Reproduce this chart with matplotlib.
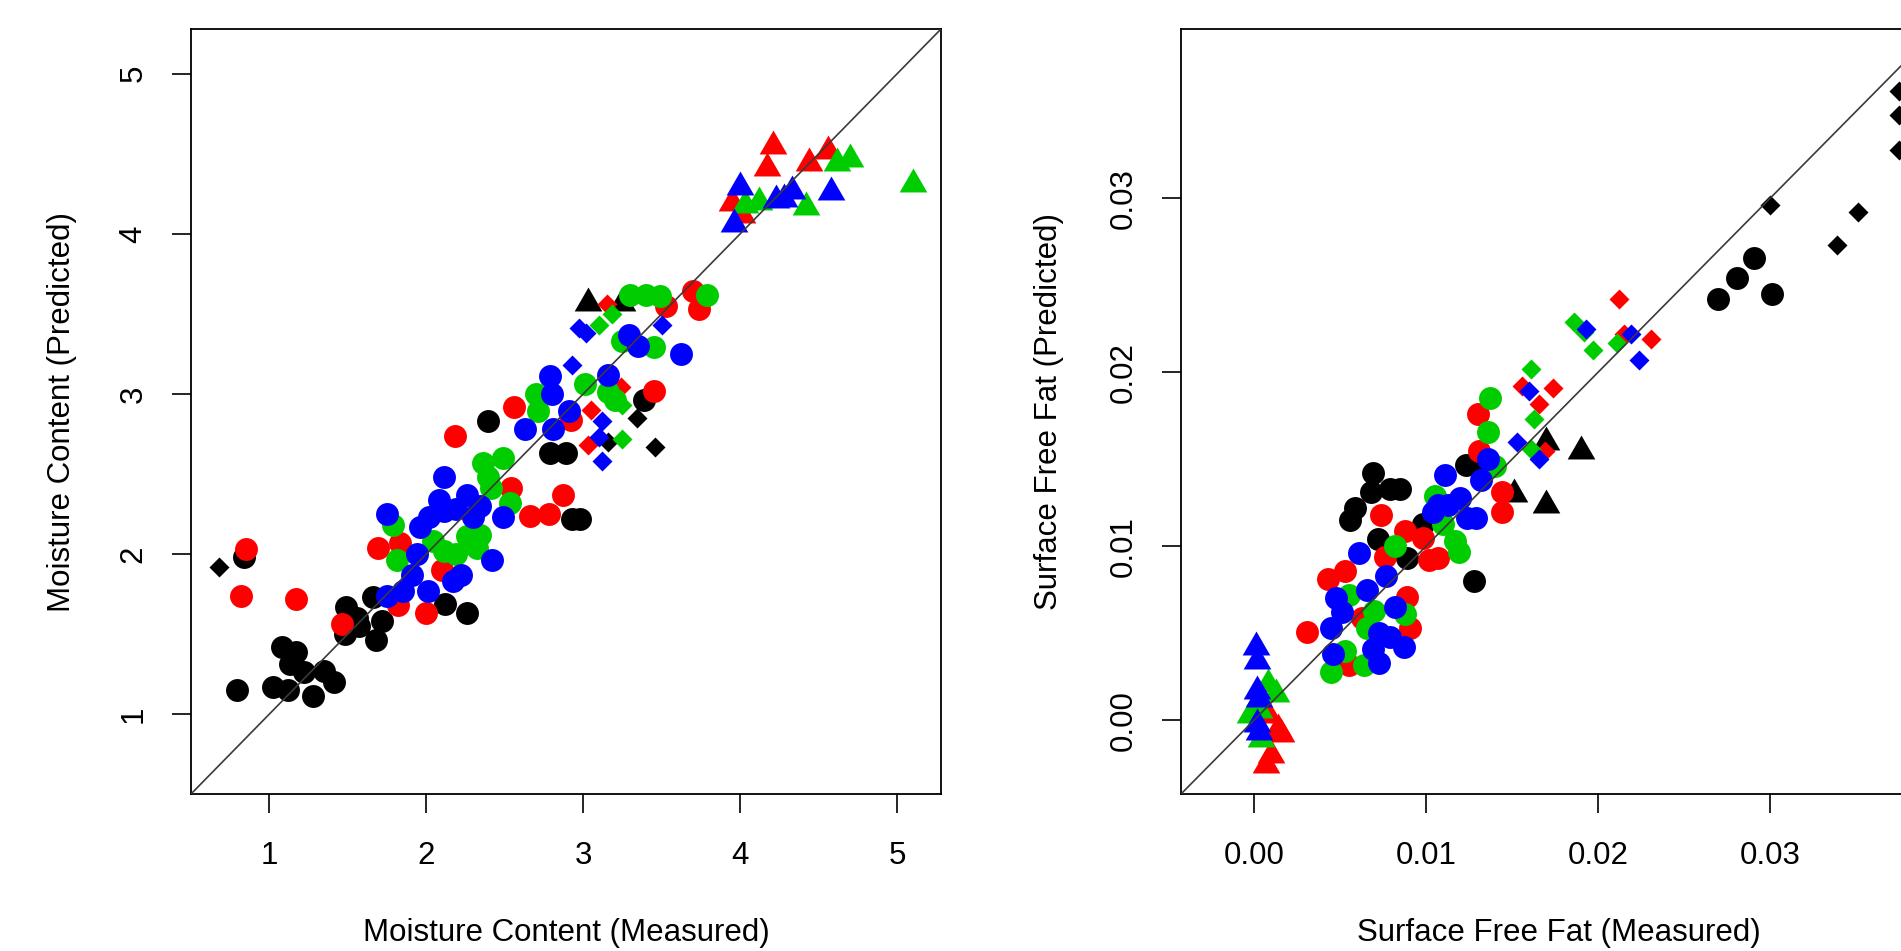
import matplotlib
matplotlib.use("Agg")
import matplotlib.pyplot as plt

plt.rcParams['font.family'] = ['Liberation Sans', 'DejaVu Sans']

# ---------------- Moisture Content (measured / predicted) ----------------
mc_o_black_x = [0.79, 1.02, 1.12, 1.08, 1.17, 1.13, 1.22, 1.28, 1.35, 1.41, 1.49, 1.56, 1.48, 1.57,
                1.66, 1.72, 1.68, 2.12, 2.26, 2.39, 2.79, 2.89, 2.93, 2.98, 0.84, 3.39]
mc_o_black_y = [1.15, 1.17, 1.15, 1.42, 1.39, 1.31, 1.26, 1.11, 1.27, 1.20, 1.67, 1.60, 1.50, 1.55,
                1.73, 1.58, 1.46, 1.69, 1.63, 2.83, 2.63, 2.63, 2.22, 2.22, 1.98, 2.96]
mc_d_black_x = [0.68, 3.34, 3.46, 3.16]
mc_d_black_y = [1.92, 2.85, 2.67, 2.70]
mc_t_black_x = [3.03, 3.25]
mc_t_black_y = [3.57, 3.57]

mc_o_red_x = [0.85, 0.82, 1.17, 1.46, 2.00, 2.18, 1.69, 1.83, 2.56, 2.54, 2.66, 2.78, 2.87, 2.10,
              2.92, 3.45, 3.70, 3.74, 3.53, 1.82]
mc_o_red_y = [2.03, 1.74, 1.72, 1.56, 1.63, 2.74, 2.04, 2.07, 2.92, 2.41, 2.24, 2.25, 2.37, 1.90,
              2.84, 3.02, 3.64, 3.53, 3.55, 1.68]
mc_d_red_x = [3.15, 3.05, 3.24, 3.03]
mc_d_red_y = [3.56, 2.90, 3.04, 2.68]
mc_t_red_x = [4.21, 4.17, 4.44, 4.56, 3.95, 4.01]
mc_t_red_y = [4.55, 4.41, 4.44, 4.52, 4.19, 4.12]

mc_o_green_x = [2.36, 2.49, 2.39, 2.41, 2.53, 1.79, 1.81, 2.11, 2.19, 2.32, 2.34, 2.26, 2.04, 2.70,
                2.71, 3.01, 3.16, 3.20, 3.45, 3.25, 3.79, 3.30, 3.40, 3.49]
mc_o_green_y = [2.57, 2.60, 2.48, 2.41, 2.32, 2.18, 1.96, 2.02, 2.00, 2.04, 2.12, 2.11, 2.08, 3.00,
                2.89, 3.06, 3.01, 2.96, 3.29, 3.33, 3.62, 3.62, 3.62, 3.61]
mc_d_green_x = [3.18, 3.10, 3.25, 3.25]
mc_d_green_y = [3.50, 3.43, 2.72, 2.93]
mc_t_green_x = [4.62, 4.70, 5.10, 4.42, 4.03, 4.12]
mc_t_green_y = [4.44, 4.47, 4.31, 4.17, 4.18, 4.20]

mc_o_blue_x = [1.75, 2.11, 1.96, 2.26, 2.34, 2.49, 2.42, 1.94, 1.91, 1.85, 1.75, 2.01, 2.22, 2.17,
               2.08, 2.11, 2.02, 2.19, 2.30, 2.63, 2.81, 2.91, 2.79, 2.80, 3.16, 3.29, 3.35, 3.62]
mc_o_blue_y = [2.25, 2.48, 2.17, 2.37, 2.30, 2.23, 1.96, 2.00, 1.87, 1.77, 1.74, 1.77, 1.87, 1.83,
               2.34, 2.27, 2.23, 2.28, 2.23, 2.78, 2.78, 2.89, 3.11, 3.00, 3.12, 3.37, 3.30, 3.25]
mc_d_blue_x = [2.97, 3.02, 3.50, 2.93, 3.12, 3.10, 3.12]
mc_d_blue_y = [3.41, 3.38, 3.43, 3.18, 2.83, 2.73, 2.58]
mc_t_blue_x = [4.00, 4.58, 4.33, 4.23, 3.96, 4.28]
mc_t_blue_y = [4.29, 4.26, 4.27, 4.21, 4.06, 4.22]

# ---------------- Surface Free Fat (measured / predicted) ----------------
sff_o_black_x = [0.0270, 0.0281, 0.0291, 0.0301, 0.0069, 0.0068, 0.0079, 0.0085, 0.0059, 0.0056,
                 0.0072, 0.0123, 0.0130, 0.0128, 0.0098, 0.0089]
sff_o_black_y = [0.0242, 0.0254, 0.0266, 0.0245, 0.0142, 0.0131, 0.0133, 0.0133, 0.0122, 0.0115,
                 0.0104, 0.0147, 0.0149, 0.0080, 0.0113, 0.0093]
sff_d_black_x = [0.0375, 0.0375, 0.0375, 0.0300, 0.0351, 0.0339]
sff_d_black_y = [0.0362, 0.0348, 0.0328, 0.0296, 0.0292, 0.0273]
sff_t_black_x = [0.0170, 0.0190, 0.0170, 0.0151]
sff_t_black_y = [0.0160, 0.0155, 0.0124, 0.0130]

sff_o_red_x = [0.0130, 0.0131, 0.0144, 0.0144, 0.0074, 0.0088, 0.0098, 0.0107, 0.0102, 0.0076,
               0.0053, 0.0043, 0.0031, 0.0089, 0.0091, 0.0055, 0.0063]
sff_o_red_y = [0.0176, 0.0155, 0.0120, 0.0131, 0.0118, 0.0109, 0.0105, 0.0093, 0.0092, 0.0094,
               0.0086, 0.0081, 0.0051, 0.0071, 0.0053, 0.0032, 0.0059]
sff_d_red_x = [0.0212, 0.0231, 0.0174, 0.0156, 0.0166, 0.0215, 0.0169]
sff_d_red_y = [0.0242, 0.0219, 0.0191, 0.0192, 0.0182, 0.0222, 0.0155]
sff_t_red_x = [0.0016, 0.0010, 0.0007, 0.0008, 0.0014]
sff_t_red_y = [-0.0008, -0.0020, -0.0026, 0.0003, -0.0005]

sff_o_green_x = [0.0137, 0.0136, 0.0117, 0.0119, 0.0105, 0.0110, 0.0082, 0.0045, 0.0064, 0.0070,
                 0.0088, 0.0053, 0.0055, 0.0140, 0.0066]
sff_o_green_y = [0.0185, 0.0166, 0.0103, 0.0097, 0.0129, 0.0113, 0.0100, 0.0028, 0.0032, 0.0063,
                 0.0061, 0.0040, 0.0072, 0.0146, 0.0053]
sff_d_green_x = [0.0186, 0.0192, 0.0197, 0.0211, 0.0161, 0.0163, 0.0161]
sff_d_green_y = [0.0229, 0.0223, 0.0213, 0.0217, 0.0202, 0.0173, 0.0156]
sff_t_green_x = [0.0013, 0.0008, -0.0002, 0.0004, 0.0003]
sff_t_green_y = [0.0015, 0.0021, 0.0003, -0.0011, 0.0006]

sff_o_blue_x = [0.0111, 0.0136, 0.0132, 0.0120, 0.0107, 0.0104, 0.0124, 0.0129, 0.0061, 0.0077,
                0.0066, 0.0048, 0.0051, 0.0045, 0.0046, 0.0082, 0.0073, 0.0079, 0.0087, 0.0073,
                0.0069, 0.0113]
sff_o_blue_y = [0.0141, 0.0150, 0.0138, 0.0128, 0.0124, 0.0120, 0.0116, 0.0116, 0.0096, 0.0083,
                0.0075, 0.0070, 0.0062, 0.0053, 0.0038, 0.0065, 0.0050, 0.0048, 0.0042, 0.0033,
                0.0041, 0.0124]
sff_d_blue_x = [0.0193, 0.0219, 0.0224, 0.0160, 0.0153, 0.0166]
sff_d_blue_y = [0.0225, 0.0222, 0.0207, 0.0189, 0.0160, 0.0150]
sff_t_blue_x = [0.0001, 0.0002, 0.0002, 0.0003, 0.0002, 0.0003]
sff_t_blue_y = [0.0042, 0.0034, 0.0017, 0.0012, -0.0002, -0.0007]

mc_ticks = [1, 2, 3, 4, 5]
mc_labels = ['1', '2', '3', '4', '5']
sff_ticks = [0.0, 0.01, 0.02, 0.03]
sff_labels = ['0.00', '0.01', '0.02', '0.03']

# palette R par defaut
noir, rouge, vert, bleu = 'black', '#ff0000', '#00cd00', '#0000ff'

# triangle equilateral centre (comme pch=17)
triangle = [(-1, -0.577), (1, -0.577), (0, 1.155), (-1, -0.577)]


def points(ax, x, y, forme, couleur):
    if forme == 'o':
        ax.plot(x, y, ls='none', marker='o', ms=16.5, mfc=couleur, mec='none')
    elif forme == 't':
        ax.plot(x, y, ls='none', marker=triangle, ms=23, mfc=couleur, mec='none')
    else:
        ax.plot(x, y, ls='none', marker='D', ms=10.5, mfc=couleur, mec='none')


def habillage(ax, lim, ticks, labels, xlab, ylab, ylab_x):
    ax.set_xlim(lim)
    ax.set_ylim(lim)
    ax.axline((0, 0), slope=1, color='#3a3a3a', lw=1.2, zorder=3)
    ax.set_xticks(ticks)
    ax.set_xticklabels(labels)
    ax.set_yticks(ticks)
    ax.set_yticklabels(labels, rotation=90, va='center')
    ax.tick_params(labelsize=22.5, length=13.5, width=1.2, direction='out')
    ax.tick_params(axis='x', pad=20)
    ax.tick_params(axis='y', pad=17)
    for s in ax.spines.values():
        s.set_linewidth(1.3)
    ax.set_xlabel(xlab, fontsize=22.5, va='center')
    ax.set_ylabel(ylab, fontsize=22.5, va='center', ha='center')
    ax.xaxis.set_label_coords(0.5, -0.1817)
    ax.yaxis.set_label_coords(ylab_x, 0.5)


fig = plt.figure(figsize=(19.01, 9.51), dpi=100)

ax1 = fig.add_axes([191 / 1901, 157 / 951, 750 / 1901, 765 / 951])
points(ax1, mc_o_black_x, mc_o_black_y, 'o', noir)
points(ax1, mc_d_black_x, mc_d_black_y, 'd', noir)
points(ax1, mc_t_black_x, mc_t_black_y, 't', noir)
points(ax1, mc_o_red_x, mc_o_red_y, 'o', rouge)
points(ax1, mc_d_red_x, mc_d_red_y, 'd', rouge)
points(ax1, mc_t_red_x, mc_t_red_y, 't', rouge)
points(ax1, mc_o_green_x, mc_o_green_y, 'o', vert)
points(ax1, mc_d_green_x, mc_d_green_y, 'd', vert)
points(ax1, mc_t_green_x, mc_t_green_y, 't', vert)
points(ax1, mc_o_blue_x, mc_o_blue_y, 'o', bleu)
points(ax1, mc_d_blue_x, mc_d_blue_y, 'd', bleu)
points(ax1, mc_t_blue_x, mc_t_blue_y, 't', bleu)
habillage(ax1, (0.50, 5.28), mc_ticks, mc_labels,
          'Moisture Content (Measured)', 'Moisture Content (Predicted)', -0.172)

ax2 = fig.add_axes([1181 / 1901, 157 / 951, 756.5 / 1901, 765 / 951])
points(ax2, sff_o_black_x, sff_o_black_y, 'o', noir)
points(ax2, sff_d_black_x, sff_d_black_y, 'd', noir)
points(ax2, sff_t_black_x, sff_t_black_y, 't', noir)
points(ax2, sff_o_red_x, sff_o_red_y, 'o', rouge)
points(ax2, sff_d_red_x, sff_d_red_y, 'd', rouge)
points(ax2, sff_t_red_x, sff_t_red_y, 't', rouge)
points(ax2, sff_o_green_x, sff_o_green_y, 'o', vert)
points(ax2, sff_d_green_x, sff_d_green_y, 'd', vert)
points(ax2, sff_t_green_x, sff_t_green_y, 't', vert)
points(ax2, sff_o_blue_x, sff_o_blue_y, 'o', bleu)
points(ax2, sff_d_blue_x, sff_d_blue_y, 'd', bleu)
points(ax2, sff_t_blue_x, sff_t_blue_y, 't', bleu)
habillage(ax2, (-0.00424, 0.03974), sff_ticks, sff_labels,
          'Surface Free Fat (Measured)', 'Surface Free Fat (Predicted)', -0.1745)

fig.savefig('out.png', dpi=100, facecolor='white')
